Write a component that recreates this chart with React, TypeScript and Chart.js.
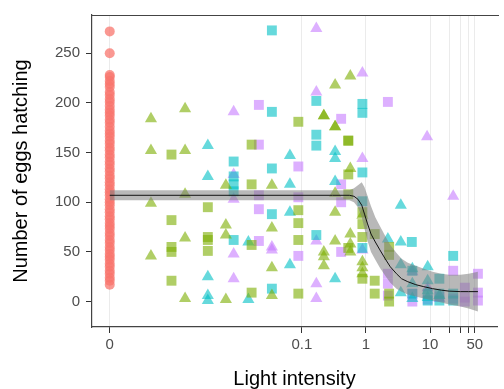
import React, { useEffect, useRef } from "react";
import { Chart, registerables } from "chart.js";

Chart.register(...registerables);

// Light intensity 0 is drawn at 1e-4 on the log axis (as in the original pseudo-log plot)
const ZERO_POS = 1e-4;

const redEggs = [
  272, 250, 228, 226, 222, 219, 216, 211, 208, 204, 201, 197, 193, 190, 187, 183,
  180, 176, 172, 169, 166, 162, 159, 155, 152, 148, 145, 141, 138, 134, 131, 127,
  124, 120, 117, 113, 110, 107, 103, 100, 97, 93, 90, 86, 83, 79, 76, 73, 69, 66,
  62, 59, 55, 52, 48, 45, 42, 38, 35, 31, 28, 24, 21, 17,
];

const greenTri: [number, number][] = [
  [0.00044, 184], [0.00044, 152], [0.00044, 99], [0.00044, 46],
  [0.0015, 194], [0.0015, 152], [0.0015, 108], [0.0015, 64], [0.0015, 3],
  [0.0065, 117], [0.0065, 77], [0.0065, 67], [0.0065, 2],
  [0.034, 117], [0.034, 74], [0.034, 34], [0.034, 6],
  [0.22, 187], [0.22, 187], [0.22, 50], [0.22, 45], [0.22, 36],
  [0.33, 218], [0.33, 176], [0.33, 176], [0.33, 109], [0.33, 90], [0.33, 61],
  [0.57, 227], [0.57, 134], [0.57, 68], [0.57, 58], [0.57, 50],
  [0.88, 87], [0.88, 40], [0.88, 34], [0.88, 28],
];

const greenSq: [number, number][] = [
  [0.00092, 148], [0.00092, 82], [0.00092, 55], [0.00092, 50], [0.00092, 21],
  [0.0034, 95], [0.0034, 65], [0.0034, 62], [0.0034, 51],
  [0.0164, 158], [0.0164, 118], [0.0164, 57], [0.0164, 9],
  [0.088, 181], [0.088, 92], [0.088, 79], [0.088, 62], [0.088, 8],
  [0.53, 162], [0.53, 162], [0.53, 128], [0.53, 108], [0.53, 54],
  [0.88, 90], [0.88, 78], [0.88, 65], [0.88, 23],
  [1.37, 68], [1.37, 21], [1.37, 8],
  [2.3, 55], [2.3, 47], [2.3, 8], [2.3, 0],
];

const cyanTri: [number, number][] = [
  [0.0034, 157], [0.0034, 126], [0.0034, 25], [0.0034, 6], [0.0034, 1],
  [0.0146, 60], [0.0146, 2],
  [0.065, 147], [0.065, 118], [0.065, 90], [0.065, 37],
  [0.33, 151], [0.33, 144], [0.33, 121], [0.33, 23],
  [2.2, 63], [3.5, 97], [3.5, 60], [3.5, 37], [3.5, 9],
  [5.3, 33], [5.3, 18], [5.3, 3],
  [9.2, 35], [9.2, 21], [9.2, 11], [9.2, 4],
  [14, 6],
];

const cyanSq: [number, number][] = [
  [0.0086, 141], [0.0086, 126], [0.0086, 118], [0.0086, 111], [0.0086, 62],
  [0.034, 273], [0.034, 191], [0.034, 134], [0.034, 88], [0.034, 13],
  [0.168, 202], [0.168, 168], [0.168, 157], [0.168, 67],
  [0.88, 199], [0.88, 190], [0.88, 130], [0.88, 101], [0.88, 54],
  [5.2, 60], [5.3, 31], [5.3, 8], [9.2, 8], [9.2, 1],
  [14, 23], [14, 8], [14, 1], [23, 46], [23, 8], [23, 1],
];

const purpleTri: [number, number][] = [
  [0.0086, 191], [0.0086, 128], [0.0086, 103], [0.0086, 48], [0.0086, 23],
  [0.034, 55], [0.034, 52],
  [0.168, 275], [0.168, 211], [0.168, 61], [0.168, 18], [0.168, 3],
  [0.88, 230], [0.88, 144], [0.88, 52],
  [9.0, 166], [23, 106],
  [5.3, 30], [9.2, 14], [14, 3],
];

const purpleSq: [number, number][] = [
  [0.0213, 198], [0.0213, 158], [0.0213, 107], [0.0213, 93], [0.0213, 61],
  [0.088, 136], [0.088, 105], [0.088, 46],
  [0.41, 184], [0.41, 118], [0.41, 100], [0.41, 50],
  [2.2, 201], [2.2, 28], [2.2, 18], [2.2, 6],
  [5.3, 8], [5.3, 0], [9.2, 2], [14, 5], [23, 31], [23, 3],
  [35, 14], [35, 4], [35, 0], [56, 28], [56, 9], [56, 1],
];

// Smoothed fit and its confidence band
const smoothX = [0, 0.3, 0.55, 0.65, 0.75, 0.86, 0.95, 1.05, 1.2, 1.4, 1.65, 2.0, 2.4, 3.0, 3.6, 4.5, 6.0, 8.0, 11, 15, 20, 30, 40, 56];
const smoothY = [107, 107, 107, 106, 103, 97, 88, 79, 68, 60, 52, 43, 35, 28, 23, 20, 17, 15, 13, 11.5, 10.5, 10, 10, 10];
const smoothLow = [102, 102, 102, 100, 95, 85, 73, 62, 50, 42, 34, 26, 19, 13, 10, 7, 5, 3, 1, -1, -3, -5, -7, -10];
const smoothHigh = [112, 112, 112, 114, 117, 120, 115, 107, 96, 85, 76, 66, 57, 49, 43, 39, 36, 33, 30, 28, 27, 27, 28, 30];

const xTicks = [0, 0.1, 1, 10, 20, 30, 40, 50];
const xTickLabels = ["0", "0.1", "1", "10", "", "", "", "50"];
const yTicks = [0, 50, 100, 150, 200, 250];

const toPos = (x: number) => (x === 0 ? ZERO_POS : x);
const pts = (pairs: [number, number][]) => pairs.map(([x, y]) => ({ x: toPos(x), y }));
const curve = (ys: number[]) => smoothX.map((x, i) => ({ x: toPos(x), y: ys[i] }));

const RED = "rgba(248,118,109,0.75)";
const GREEN = "rgba(124,174,0,0.6)";
const CYAN = "rgba(0,191,196,0.6)";
const PURPLE = "rgba(199,124,255,0.6)";

const panelBorder = {
  id: "panelBorder",
  afterDraw(chart: any) {
    const { ctx, chartArea } = chart;
    ctx.save();
    ctx.strokeStyle = "#444";
    ctx.lineWidth = 1.2;
    ctx.beginPath();
    ctx.moveTo(chartArea.left, chartArea.top + 0.5);
    ctx.lineTo(chartArea.right + 2, chartArea.top + 0.5);
    ctx.stroke();
    ctx.restore();
  },
};

export default function App() {
  const ref = useRef<HTMLCanvasElement | null>(null);
  useEffect(() => {
    if (!ref.current) return;
    Chart.defaults.font.family = "'Liberation Sans', Arial, sans-serif";
    const scatterDs = (label: string, pairs: [number, number][], color: string, style: string, r: number, order: number) => ({
      type: "scatter" as const,
      label,
      data: pts(pairs),
      backgroundColor: color,
      borderWidth: 0,
      pointStyle: style,
      pointRadius: r,
      order,
    });
    const chart = new Chart(ref.current, {
      type: "scatter",
      data: {
        datasets: [
          {
            type: "line",
            label: "fit",
            data: curve(smoothY),
            borderColor: "#111",
            borderWidth: 1,
            pointRadius: 0,
            showLine: true,
            fill: false,
            order: 0,
          } as any,
          {
            type: "line",
            label: "upper",
            data: curve(smoothHigh),
            borderWidth: 0,
            borderColor: "rgba(0,0,0,0)",
            backgroundColor: "rgba(125,125,125,0.55)",
            pointRadius: 0,
            showLine: true,
            fill: "+1",
            order: 1,
          } as any,
          {
            type: "line",
            label: "lower",
            data: curve(smoothLow),
            borderWidth: 0,
            borderColor: "rgba(0,0,0,0)",
            pointRadius: 0,
            showLine: true,
            fill: false,
            order: 1,
          } as any,
          scatterDs("greenTri", greenTri, GREEN, "triangle", 7, 3),
          scatterDs("greenSq", greenSq, GREEN, "rect", 7, 3),
          scatterDs("cyanTri", cyanTri, CYAN, "triangle", 7, 3),
          scatterDs("cyanSq", cyanSq, CYAN, "rect", 7, 3),
          scatterDs("purpleTri", purpleTri, PURPLE, "triangle", 7, 3),
          scatterDs("purpleSq", purpleSq, PURPLE, "rect", 7, 3),
          {
            type: "scatter",
            label: "dark",
            data: redEggs.map((y) => ({ x: ZERO_POS, y })),
            backgroundColor: RED,
            borderWidth: 0,
            pointStyle: "circle",
            pointRadius: 5,
            order: 4,
          } as any,
        ],
      },
      options: {
        responsive: false,
        animation: false,
        events: [],
        layout: { padding: { left: 0, right: 0, top: 9, bottom: 0 } },
        plugins: { legend: { display: false }, tooltip: { enabled: false } },
        scales: {
          x: {
            type: "logarithmic",
            min: Math.pow(10, -4.277),
            max: Math.pow(10, 2.046),
            afterFit: (s: any) => {
              s.height = 62;
            },
            afterBuildTicks: (s: any) => {
              s.ticks = xTicks.map((v) => ({ value: toPos(v) }));
            },
            grid: {
              color: "#EBEBEB",
              lineWidth: 1,
              drawTicks: true,
              tickLength: 6,
              tickColor: "#333",
            },
            border: { display: true, color: "#444", width: 1.2 },
            ticks: {
              autoSkip: false,
              maxRotation: 0,
              padding: 3,
              color: "#4D4D4D",
              font: { size: 15 },
              callback: (_v: any, i: number) => xTickLabels[i],
            },
            title: {
              display: true,
              text: "Light intensity",
              color: "#000",
              font: { size: 20 },
              padding: { top: 0, bottom: -2 },
            },
          },
          y: {
            type: "linear",
            min: -25.6,
            max: 288.5,
            afterFit: (s: any) => {
              s.width = 92;
            },
            afterBuildTicks: (s: any) => {
              s.ticks = yTicks.map((v) => ({ value: v }));
            },
            grid: {
              drawOnChartArea: false,
              drawTicks: true,
              tickLength: 6,
              tickColor: "#333",
            },
            border: { display: true, color: "#444", width: 1.2 },
            ticks: {
              padding: 6,
              color: "#4D4D4D",
              font: { size: 15 },
            },
            title: {
              display: true,
              text: "Number of eggs hatching",
              color: "#000",
              font: { size: 20 },
              padding: { top: 9, bottom: 0 },
            },
          },
        },
      },
      plugins: [panelBorder],
    } as any);
    return () => chart.destroy();
  }, []);
  return (
    <div style={{ position: "absolute", left: 0, top: 0, width: 504, height: 389, background: "#fff" }}>
      <canvas ref={ref} width={504} height={389} style={{ display: "block" }} />
    </div>
  );
}
